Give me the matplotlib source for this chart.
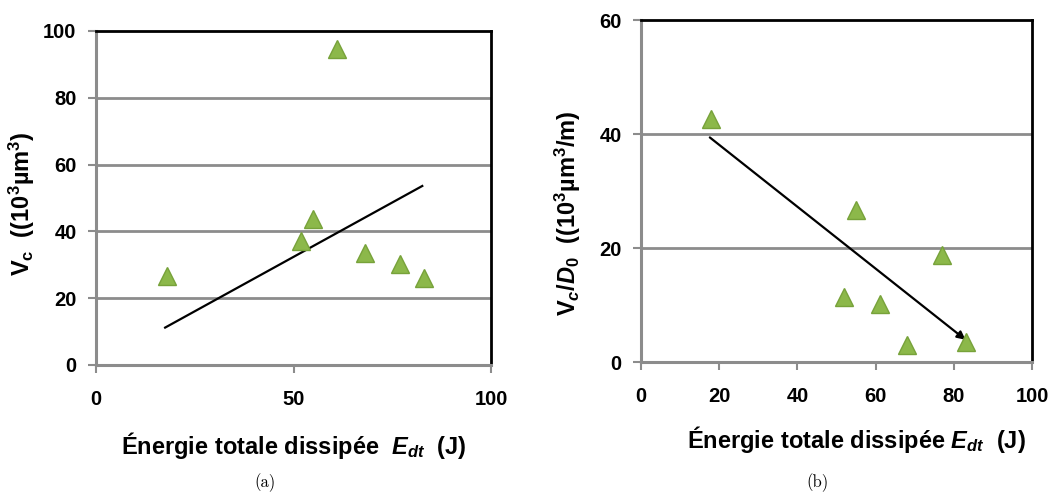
import matplotlib
matplotlib.use("Agg")
import matplotlib.pyplot as plt

plt.rcParams["font.family"] = "Liberation Sans"
plt.rcParams["font.weight"] = "bold"
plt.rcParams["mathtext.fontset"] = "custom"
plt.rcParams["mathtext.rm"] = "Liberation Sans:bold"
plt.rcParams["mathtext.it"] = "Liberation Sans:bold:italic"
plt.rcParams["mathtext.bf"] = "Liberation Sans:bold"

GRID = "#8c8c8c"
MARK_FACE = "#8cb84a"
MARK_EDGE = "#77a23a"

# data
energy = [18, 52, 55, 61, 68, 77, 83]
vc = [26.7, 37.2, 43.6, 94.5, 33.4, 30.1, 26.1]
energy_b = [18, 52, 55, 61, 68, 77, 83]
vc_d0 = [42.6, 11.4, 26.7, 10.2, 2.9, 18.7, 3.5]

# hand-drawn trend lines
trend_a_x = [17.5, 82.6]
trend_a_y = [11.2, 53.6]
trend_b_x = [17.6, 83.0]
trend_b_y = [39.4, 3.9]

xticks_a = [0, 50, 100]
yticks_a = [0, 20, 40, 60, 80, 100]
xticks_b = [0, 20, 40, 60, 80, 100]
yticks_b = [0, 20, 40, 60]


def style_axes(ax, xticks, yticks):
    ax.set_xlim(xticks[0], xticks[-1])
    ax.set_ylim(yticks[0], yticks[-1])
    ax.set_xticks(xticks)
    ax.set_yticks(yticks)
    for y in yticks[1:-1]:
        ax.axhline(y, color=GRID, linewidth=2, zorder=1)
    ax.spines["left"].set_color(GRID)
    ax.spines["bottom"].set_color(GRID)
    ax.spines["left"].set_linewidth(2.2)
    ax.spines["bottom"].set_linewidth(2.2)
    ax.spines["top"].set_color("black")
    ax.spines["right"].set_color("black")
    ax.spines["top"].set_linewidth(2)
    ax.spines["right"].set_linewidth(2)
    ax.tick_params(axis="both", direction="out", length=6, width=1.5, color=GRID,
                   labelsize=14.5)
    ax.tick_params(axis="x", pad=12)
    ax.tick_params(axis="y", pad=8)
    for lab in ax.get_xticklabels() + ax.get_yticklabels():
        lab.set_fontweight("bold")


fig = plt.figure(figsize=(10.57, 4.95), dpi=100)

# (a) crater volume
ax1 = fig.add_axes([96 / 1057, 1 - 365 / 495, 395 / 1057, 334 / 495])
ax1.plot(trend_a_x, trend_a_y, color="black", linewidth=1.6, zorder=3)
ax1.plot(energy, vc, linestyle="none", marker="^", markersize=13,
         markerfacecolor=MARK_FACE, markeredgecolor=MARK_EDGE, markeredgewidth=1, zorder=4,
         clip_on=False)
style_axes(ax1, xticks_a, yticks_a)
ax1.set_xlabel("Énergie totale dissipée  $E_{dt}$  (J)", fontsize=17, fontweight="bold")
ax1.set_ylabel(r"$\mathrm{V_c}$  ((10$^3$µm$^3$)", fontsize=17, fontweight="bold")
ax1.xaxis.set_label_coords(0.5, -0.195)
ax1.yaxis.set_label_coords(-0.149, 0.483)

# (b) volume per diameter
ax2 = fig.add_axes([641 / 1057, 1 - 362 / 495, 391 / 1057, 342 / 495])
ax2.annotate("", xy=(trend_b_x[1], trend_b_y[1]), xytext=(trend_b_x[0], trend_b_y[0]),
             arrowprops=dict(arrowstyle="-|>", color="black", linewidth=1.6,
                             mutation_scale=12, shrinkA=0, shrinkB=0), zorder=3)
ax2.plot(energy_b, vc_d0, linestyle="none", marker="^", markersize=13,
         markerfacecolor=MARK_FACE, markeredgecolor=MARK_EDGE, markeredgewidth=1, zorder=4,
         clip_on=False)
style_axes(ax2, xticks_b, yticks_b)
ax2.set_xlabel("Énergie totale dissipée $E_{dt}$  (J)", fontsize=17, fontweight="bold")
ax2.set_ylabel(r"$\mathrm{V}_c/D_0$  ((10$^3$µm$^3$/m)", fontsize=17, fontweight="bold")
ax2.xaxis.set_label_coords(0.552, -0.181)
ax2.yaxis.set_label_coords(-0.148, 0.436)

fig.text(265 / 1057, 1 - 483 / 495, "(a)", family="cmr10", fontsize=12,
         fontweight="normal", ha="center", va="center")
fig.text(817 / 1057, 1 - 483 / 495, "(b)", family="cmr10", fontsize=12,
         fontweight="normal", ha="center", va="center")

fig.savefig("out.png", dpi=100)
